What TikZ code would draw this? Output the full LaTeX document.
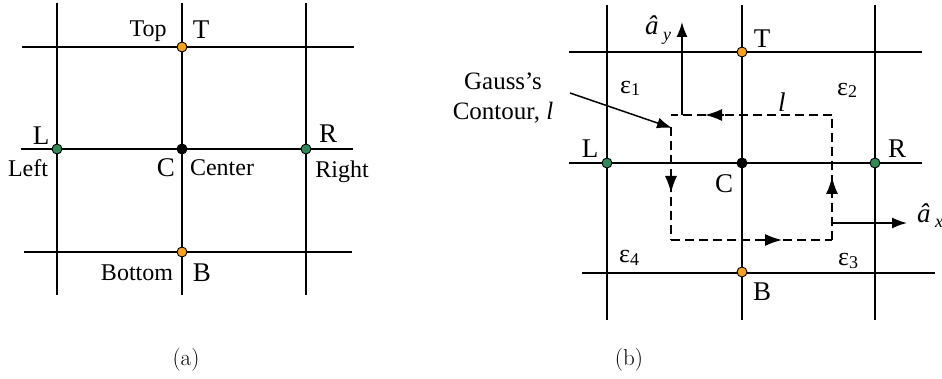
\documentclass[tikz,border=0pt]{standalone}
\usepackage{fontspec}
\usetikzlibrary{arrows.meta}
\newfontfamily\tms{Liberation Serif}
\definecolor{dotorange}{RGB}{247,160,26}
\definecolor{dotgreen}{RGB}{46,139,87}
\begin{document}
\begin{tikzpicture}[x=1pt,y=-1pt,
  gline/.style={line width=1.5pt},
  gdot/.style={circle,draw=black,line width=0.9pt,minimum size=10pt,inner sep=0pt},
  lab/.style={font=\tms\fontsize{24}{28}\selectfont,inner sep=0pt,anchor=base},
  big/.style={font=\tms\fontsize{27}{30}\selectfont,inner sep=0pt,anchor=base},
  epslab/.style={font=\tms\fontsize{26}{30}\selectfont,inner sep=0pt,anchor=base west},
  ital/.style={font=\tms\itshape\fontsize{27}{30}\selectfont,inner sep=0pt,anchor=base west},
  captxt/.style={font=\fontsize{23}{27}\selectfont,inner sep=0pt},
  contourline/.style={line width=2pt,dash pattern=on 9pt off 5pt},
  midtip/.style={-{Latex[length=17pt,width=12pt]},line width=1.5pt},
  vec/.style={-{Latex[length=15pt,width=11pt]},line width=1.5pt}]
\useasboundingbox (0,0) rectangle (942,379);
% ---------- panel (a) ----------
\draw[gline] (57,3) -- (57,295);
\draw[gline] (182,3) -- (182,295);
\draw[gline] (306,3) -- (306,295);
\draw[gline] (22,47) -- (354,47);
\draw[gline] (21,149) -- (353,149);
\draw[gline] (24,252) -- (352,252);
\node[gdot,fill=dotorange] (aT) at (182,47) {};
\node[gdot,fill=dotgreen] (aL) at (57,149) {};
\node[gdot,fill=black] (aC) at (182,149) {};
\node[gdot,fill=dotgreen] (aR) at (306,149) {};
\node[gdot,fill=dotorange] (aB) at (182,252) {};
\node[lab] (aTop) at (148,37) {Top};
\node[big] (aTl) at (201,39) {T};
\node[big] (aLl) at (41,145) {L};
\node[lab] (aLeft) at (28,177) {Left};
\node[big] (aCl) at (166,177) {C};
\node[lab] (aCenter) at (222,176) {Center};
\node[big] (aRl) at (328,143) {R};
\node[lab] (aRight) at (342,178) {Right};
\node[lab] (aBottom) at (137,280) {Bottom};
\node[big] (aBl) at (202,281) {B};
\node[captxt] (capa) at (186,360) {(a)};
% ---------- panel (b) ----------
\draw[gline] (607,5) -- (607,320);
\draw[gline] (742,5) -- (742,320);
\draw[gline] (875,5) -- (875,320);
\draw[gline] (569,52) -- (922,52);
\draw[gline] (569,163) -- (922,163);
\draw[gline] (582,273) -- (935,273);
% contour
\coordinate (tl) at (671,115);
\coordinate (tr) at (832,115);
\coordinate (br) at (832,240);
\coordinate (bl) at (671,240);
\draw[contourline] (tr) -- (tl);
\draw[contourline] (671,127) -- (bl);
\draw[contourline] (bl) -- (br);
\draw[contourline] (br) -- (832,118);
\draw[midtip] (724,115) -- (705,115);
\draw[midtip] (671,174) -- (671,193);
\draw[midtip] (763,240) -- (782,240);
\draw[midtip] (832,196) -- (832,177);
% unit vectors
\coordinate (ay0) at (682,115);
\coordinate (ay1) at (682,22);
\draw[vec] (ay0) -- (ay1);
\coordinate (ax0) at (832,223);
\coordinate (ax1) at (907,223);
\draw[vec] (ax0) -- (ax1);
\node[ital] (ayl) at (645,35) {â};
\node[ital,font=\tms\itshape\fontsize{18}{20}\selectfont] (ays) at (663,41) {y};
\node[ital] (axl) at (917,223) {â};
\node[ital,font=\tms\itshape\fontsize{18}{20}\selectfont] (axs) at (935,228) {x};
% nodes
\node[gdot,fill=dotorange] (bT) at (742,52) {};
\node[gdot,fill=dotgreen] (bL) at (607,163) {};
\node[gdot,fill=black] (bC) at (742,163) {};
\node[gdot,fill=dotgreen] (bR) at (875,163) {};
\node[gdot,fill=dotorange] (bB) at (742,272) {};
\node[big] (bTl) at (762,48) {T};
\node[big] (bLl) at (590,158) {L};
\node[big] (bRl) at (897,158) {R};
\node[big] (bCl) at (724,193) {C};
\node[big] (bBl) at (762,300) {B};
% permittivities
\node[epslab] (e1) at (620,94) {ε\raisebox{-2pt}{\fontsize{18}{20}\selectfont 1}};
\node[epslab] (e2) at (837,96) {ε\raisebox{-2pt}{\fontsize{18}{20}\selectfont 2}};
\node[epslab] (e4) at (619,263) {ε\raisebox{-2pt}{\fontsize{18}{20}\selectfont 4}};
\node[epslab] (e3) at (838,266) {ε\raisebox{-2pt}{\fontsize{18}{20}\selectfont 3}};
\node[ital] (ll) at (778,112) {l};
% Gauss label
\node[lab,font=\tms\fontsize{25}{29}\selectfont] (g1) at (503,90) {Gauss’s};
\node[lab,font=\tms\fontsize{25}{29}\selectfont] (g2) at (503,120) {Contour, \textit{l}};
\coordinate (gs) at (570,93);
\coordinate (ge) at (672,128);
\draw[vec] (gs) -- (ge);
\node[captxt] (capb) at (629,360) {(b)};
\end{tikzpicture}
\end{document}
